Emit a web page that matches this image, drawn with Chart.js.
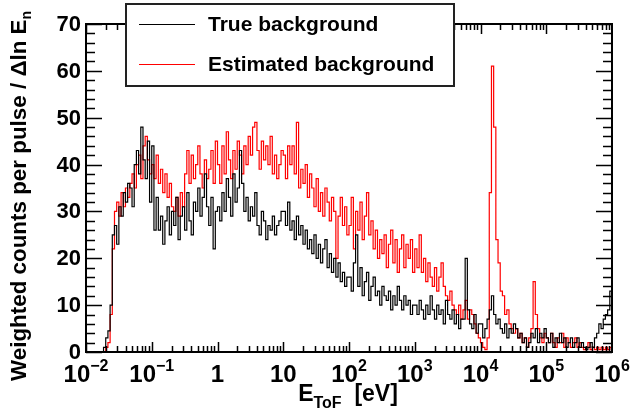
<!DOCTYPE html>
<html>
<head>
<meta charset="utf-8">
<script src="https://cdn.jsdelivr.net/npm/chart.js@4/dist/chart.umd.min.js"></script>
<style>
  body { margin: 0; background: #fff; }
  canvas { display: block; }
</style>
</head>
<body>
<canvas id="chart" width="630" height="412"></canvas>
<script>
// Histogram binning: 30 log bins per decade from 1e-2 to 1e6 eV
const X_MIN = 1e-2;
const X_MAX = 1e6;
const BINS_PER_DECADE = 30;

// Weighted counts per pulse / dln E, one row per decade
const trueBackground = [
    0, 0, 0, 0, 0, 0, 0, 0, 1, 3, 4.5, 10, 25, 27, 23, 31, 29, 34, 32, 36, 35, 31, 40, 43, 38, 48, 41, 37, 45, 32,
    44, 26, 33, 26, 29, 23, 28, 31, 25, 30, 27, 33, 24, 29, 31, 26, 34, 28, 25, 32, 30, 35, 29, 33, 38, 31, 27, 33, 22, 30,
    31, 28, 34, 30, 37, 33, 29, 38, 32, 35, 43, 36, 30, 33, 28, 31, 29, 34, 27, 25, 30, 28, 24, 27, 26, 29, 25, 27, 28, 30,
    30, 27, 32, 26, 28, 24, 29, 25, 27, 23, 26, 22, 24, 21, 25, 20, 23, 19, 22, 24, 18, 21, 17, 20, 16, 19, 15, 17, 14, 16,
    16, 13, 19, 25, 14, 18, 12, 15, 17, 11, 14, 16, 12, 13, 10, 14, 12, 11, 13, 9, 12, 10, 14, 11, 9, 12, 10, 11, 8, 10,
    10, 8, 11, 9, 7, 10, 8, 12, 9, 7, 10, 8, 9, 6, 11, 8, 7, 9, 6, 8, 5, 7, 7, 20, 9, 6, 5, 8, 4, 6,
    6, 3, 5, 7, 9, 12, 8, 6, 7, 5, 4, 6, 3, 5, 4, 6, 5, 3, 4, 2, 3, 1, 2, 4, 3, 5, 2, 4, 3, 5,
    3, 2, 4, 1, 3, 2, 4, 2, 3, 1, 2, 3, 1, 2, 3, 1, 2, 1, 0.5, 1, 2, 1, 3, 4, 6, 5, 7, 8, 9, 13
];

const estimatedBackground = [
    0, 0, 0, 0, 0, 0, 0, 0, 0, 1, 2, 8, 22, 30, 32, 29, 34, 31, 35, 33, 36, 38, 35, 40, 42, 37, 44, 46, 41, 38,
    40, 37, 42, 36, 39, 34, 38, 33, 36, 31, 30, 33, 29, 34, 31, 38, 43, 36, 42, 37, 40, 44, 38, 35, 41, 37, 39, 43, 36, 45,
    40, 36, 44, 38, 47, 41, 37, 43, 39, 45, 42, 38, 44, 40, 46, 42, 48, 49, 43, 39, 45, 41, 44, 40, 46, 38, 42, 37, 40, 43,
    42, 37, 44, 40, 44, 38, 49, 35, 39, 36, 40, 33, 38, 35, 31, 37, 30, 34, 29, 35, 32, 28, 33, 30, 20, 29, 33, 27, 31, 25,
    27, 33, 22, 30, 26, 32, 24, 29, 34, 25, 28, 22, 26, 20, 24, 21, 25, 18, 23, 26, 19, 24, 17, 22, 25, 18, 23, 20, 24, 17,
    22, 18, 25, 17, 20, 15, 19, 16, 14, 18, 13, 16, 19, 14, 12, 11, 13, 10, 9, 8, 10, 7, 9, 11, 7, 9, 8, 6, 4, 3,
    2, 1, 0.5, 3, 34, 61, 48, 24, 19, 13, 12, 8, 9, 6, 5, 4, 5, 3, 4, 2, 3, 1, 3, 5, 15, 8, 5, 3, 2, 4,
    3, 2, 4, 2, 1, 3, 2, 4, 1, 3, 2, 1, 2, 3, 1, 2, 1, 0.5, 1, 2, 0.5, 1, 0.5, 1, 0.5, 1, 0.5, 1, 0.5, 1
];

const yTicks = [0, 10, 20, 30, 40, 50, 60, 70];
const xDecades = [-2, -1, 0, 1, 2, 3, 4, 5, 6];
const legendLabels = ['True background', 'Estimated background'];

const FONT = '"Liberation Sans", Arial, Helvetica, sans-serif';

// lower bin edges, plus closing point at X_MAX
function histPoints(values) {
    const pts = values.map((v, i) => ({ x: X_MIN * Math.pow(10, i / BINS_PER_DECADE), y: v }));
    pts.push({ x: X_MAX, y: values[values.length - 1] });
    return pts;
}

const rootFrame = {
    id: 'rootFrame',
    beforeDraw(chart) {
        const c = chart.ctx;
        c.save();
        c.fillStyle = '#fff';
        c.fillRect(0, 0, chart.width, chart.height);
        c.restore();
    },
    afterDatasetsDraw(chart) {
        const c = chart.ctx;
        const a = chart.chartArea;
        const xs = chart.scales.x;
        const ys = chart.scales.y;
        c.save();
        c.strokeStyle = '#000';
        c.fillStyle = '#000';

        // frame
        c.lineWidth = 2;
        c.strokeRect(a.left, a.top, a.right - a.left, a.bottom - a.top);

        // x ticks, bottom and top
        c.lineWidth = 1.5;
        c.beginPath();
        for (let d = -2; d < 6; d++) {
            for (let k = 1; k <= 9; k++) {
                const px = Math.round(xs.getPixelForValue(k * Math.pow(10, d))) + 0.5;
                const len = k === 1 ? 10 : 6;
                c.moveTo(px, a.bottom); c.lineTo(px, a.bottom - len);
                c.moveTo(px, a.top); c.lineTo(px, a.top + len);
            }
        }
        // y ticks, left and right
        for (let v = 0; v <= 70; v += 2) {
            const py = Math.round(ys.getPixelForValue(v)) + 0.5;
            const len = v % 10 === 0 ? 16 : 9;
            c.moveTo(a.left, py); c.lineTo(a.left + len, py);
            c.moveTo(a.right, py); c.lineTo(a.right - len, py);
        }
        c.stroke();

        // y labels
        c.font = 'bold 22px ' + FONT;
        c.textAlign = 'right';
        c.textBaseline = 'middle';
        yTicks.forEach(v => c.fillText(String(v), a.left - 5, ys.getPixelForValue(v) + 1));

        // x labels with superscripts
        c.textBaseline = 'alphabetic';
        c.textAlign = 'left';
        xDecades.forEach(d => {
            const px = xs.getPixelForValue(Math.pow(10, d));
            let base, sup = '';
            if (d === 0) base = '1';
            else if (d === 1) base = '10';
            else { base = '10'; sup = d < 0 ? '\u2212' + (-d) : String(d); }
            c.font = 'bold 24px ' + FONT;
            const wb = c.measureText(base).width;
            c.font = 'bold 16px ' + FONT;
            const ws = sup ? c.measureText(sup).width : 0;
            const x0 = px - (wb + ws) / 2;
            c.font = 'bold 24px ' + FONT;
            c.fillText(base, x0, 382);
            if (sup) {
                c.font = 'bold 16px ' + FONT;
                c.fillText(sup, x0 + wb, 371);
            }
        });

        // x title: E_ToF  [eV]
        c.font = 'bold 23px ' + FONT;
        const wE = c.measureText('E').width;
        c.font = 'bold 16px ' + FONT;
        const wT = c.measureText('ToF').width;
        c.font = 'bold 23px ' + FONT;
        const wU = c.measureText('  [eV]').width;
        let tx = 348 - (wE + wT + wU) / 2;
        c.fillText('E', tx, 401);
        c.font = 'bold 16px ' + FONT;
        c.fillText('ToF', tx + wE, 408);
        c.font = 'bold 23px ' + FONT;
        c.fillText('  [eV]', tx + wE + wT, 401);

        // y title, rotated
        c.save();
        c.translate(26, 381);
        c.rotate(-Math.PI / 2);
        c.font = 'bold 22.4px ' + FONT;
        const yTitle = 'Weighted counts per pulse / \u0394ln E';
        c.fillText(yTitle, 0, 0);
        const wy = c.measureText(yTitle).width;
        c.font = 'bold 14px ' + FONT;
        c.fillText('n', wy, 5);
        c.restore();

        // legend
        c.fillStyle = '#fff';
        c.fillRect(126, 4, 328, 82);
        c.lineWidth = 2;
        c.strokeStyle = '#222';
        c.strokeRect(126, 4, 328, 82);
        const colors = ['#000', '#ff0000'];
        const rowsY = [24.5, 64.5];
        legendLabels.forEach((lab, i) => {
            c.strokeStyle = colors[i];
            c.lineWidth = 1;
            c.beginPath();
            c.moveTo(139, rowsY[i]); c.lineTo(195, rowsY[i]);
            c.stroke();
            c.fillStyle = '#000';
            c.font = 'bold 21px ' + FONT;
            c.textBaseline = 'middle';
            c.fillText(lab, 208, rowsY[i] + 1);
        });
        c.restore();
    }
};

new Chart(document.getElementById('chart'), {
    type: 'line',
    data: {
        datasets: [
            {
                label: legendLabels[0],
                data: histPoints(trueBackground),
                borderColor: '#000',
                borderWidth: 1.2,
                stepped: 'before',
                pointRadius: 0,
                fill: false
            },
            {
                label: legendLabels[1],
                data: histPoints(estimatedBackground),
                borderColor: '#ff0000',
                borderWidth: 1.2,
                stepped: 'before',
                pointRadius: 0,
                fill: false
            }
        ]
    },
    options: {
        responsive: false,
        animation: false,
        layout: { padding: { left: 86, right: 18, top: 24, bottom: 60 } },
        plugins: {
            legend: { display: false },
            tooltip: { enabled: false }
        },
        scales: {
            x: { type: 'logarithmic', min: X_MIN, max: X_MAX, display: false },
            y: { type: 'linear', min: 0, max: 70, display: false }
        }
    },
    plugins: [rootFrame]
});
</script>
</body>
</html>
